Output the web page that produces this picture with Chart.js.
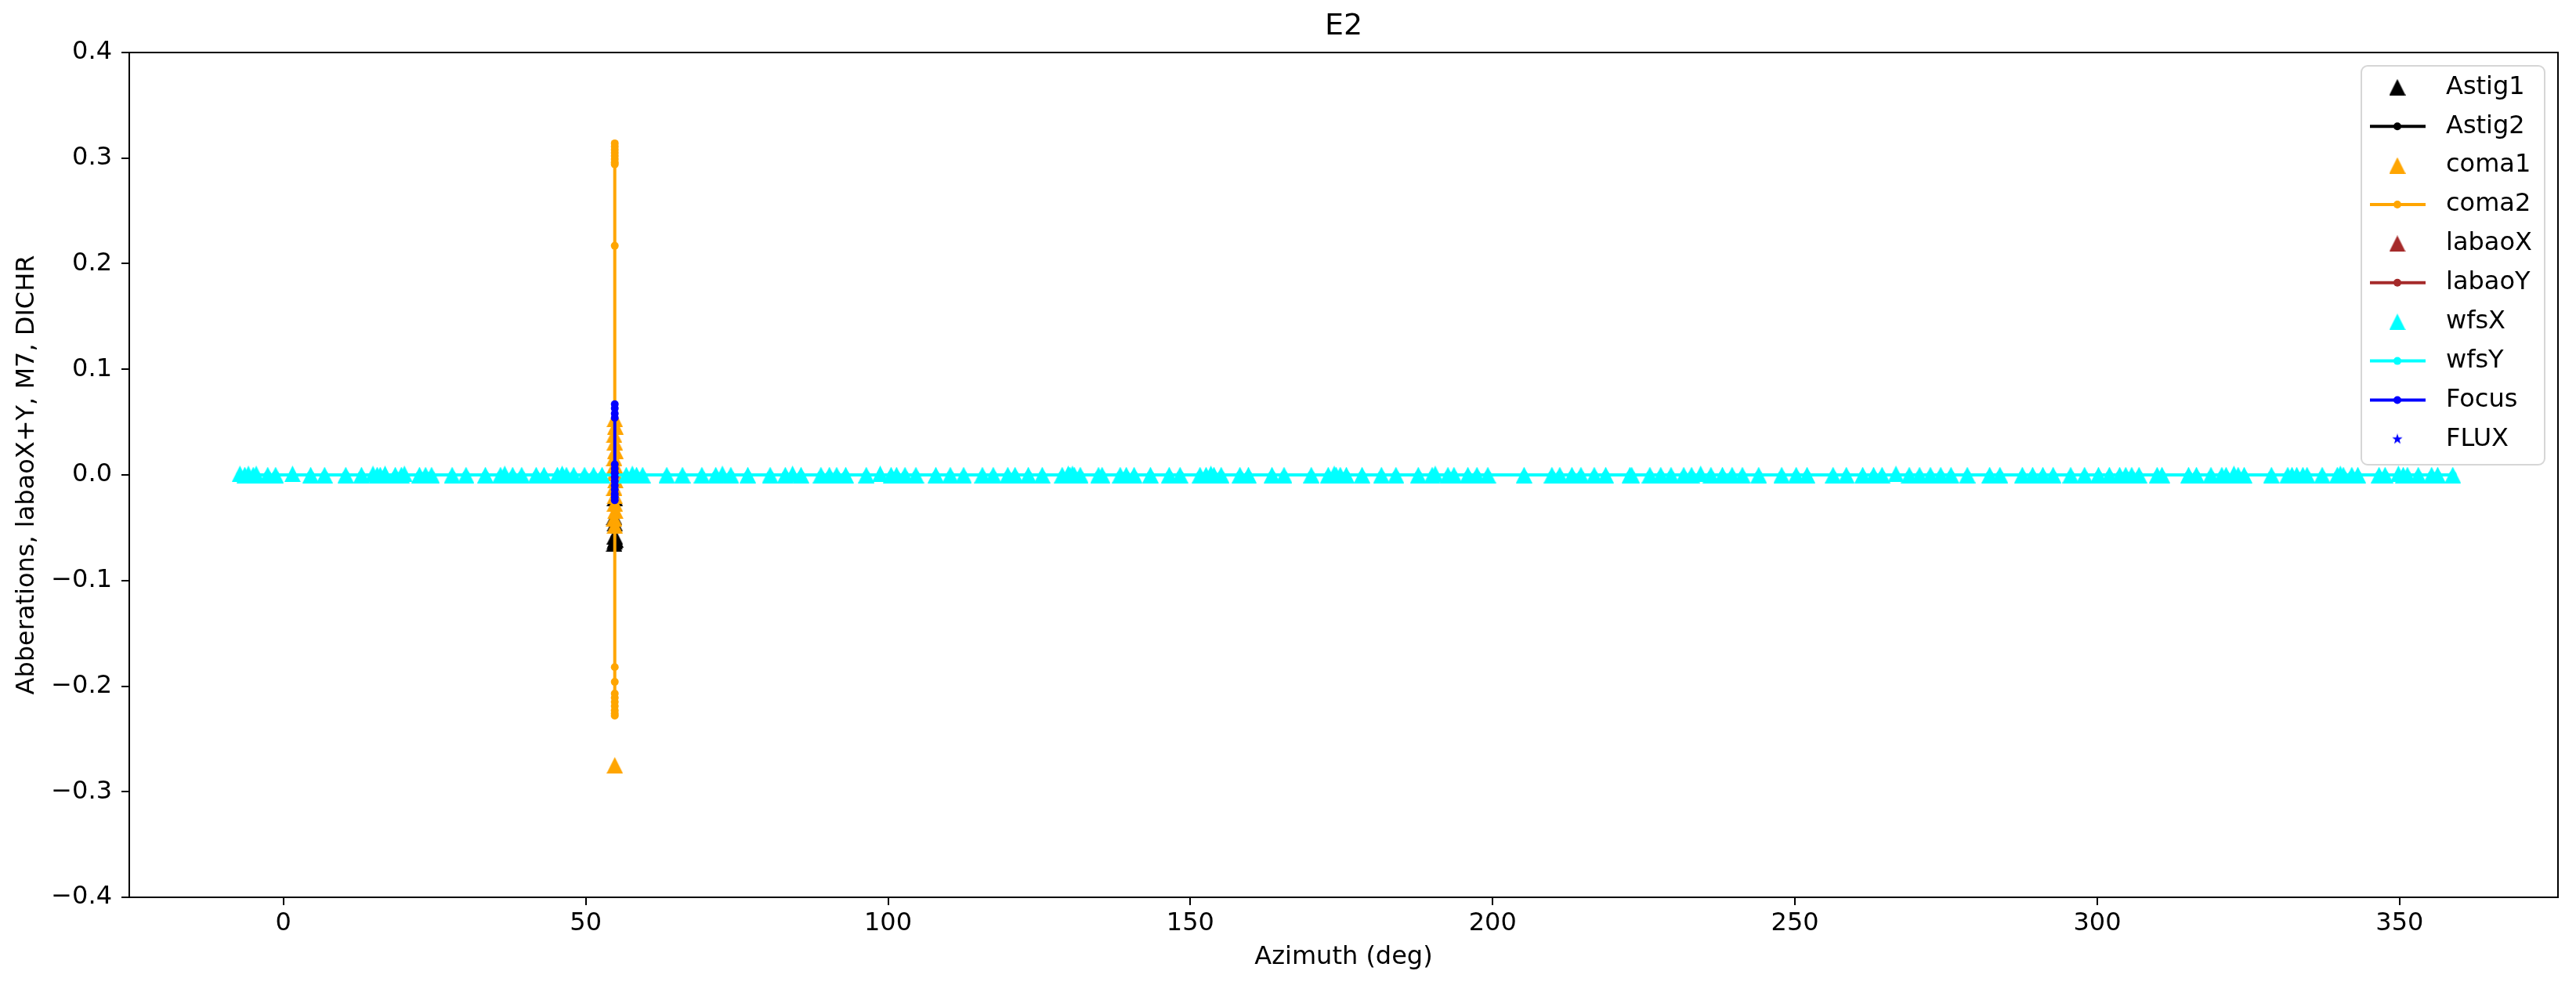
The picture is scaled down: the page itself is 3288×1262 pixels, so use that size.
<!DOCTYPE html>
<html>
<head>
<meta charset="utf-8">
<title>E2</title>
<script src="https://cdn.jsdelivr.net/npm/chart.js@4.4.1/dist/chart.umd.min.js"></script>
<style>
  html, body { margin: 0; padding: 0; background: #fff; }
  #wrap { width: 3288px; height: 1262px; position: relative; }
</style>
</head>
<body>
<div id="wrap"><canvas id="chart"></canvas></div>
<script>
// WFS samples, azimuth in deg
const wfsAz = [
  -7.2, -6.4, -5.8, -5.0, -4.5, -2.6, -1.3, 1.5, 4.5, 6.8,
  10.3, 12.9, 14.8, 15.5, 16.0, 16.8, 18.5, 19.5, 20.0, 22.5,
  23.5, 24.5, 27.9, 30.2, 33.4, 35.9, 36.6, 37.9, 39.4, 41.8,
  43.1, 45.3, 46.1, 46.8, 48.0, 49.8, 51.3, 52.7, 56.7, 57.7,
  58.4, 59.4, 63.4,
  66.0, 69.2, 71.5, 72.6, 74.0, 76.8, 80.5, 83.0, 84.2, 85.6,
  88.9, 90.3, 91.5, 93.0, 96.4, 98.7, 100.5, 101.4, 102.8, 104.6,
  107.9, 110.3, 112.5, 115.6, 117.4, 119.8, 121.0,
  123.2, 125.5, 128.8, 129.8, 130.1, 130.5, 130.8, 131.8, 134.8, 135.4,
  138.4, 139.4, 140.7, 143.4, 146.5, 148.3, 151.6, 152.6, 153.4, 153.9,
  155.1, 158.2, 159.6, 163.5, 165.5, 170.0, 172.8, 173.8, 174.1, 174.8,
  175.8, 178.4, 181.6, 184.0, 187.7, 190.0, 190.5, 192.6, 193.6, 195.9,
  197.4, 199.2, 205.2, 209.8, 211.1, 213.1, 214.6, 216.8, 218.7, 222.7,
  223.0,
  226.0, 227.8, 229.5, 231.6, 232.9, 234.4, 236.1, 238.0, 239.6, 241.3,
  244.0, 247.8, 250.2, 252.0, 256.3, 258.5, 261.2, 263.0, 264.4, 266.7,
  268.9, 270.6, 272.4, 274.1, 275.8, 278.5, 282.2, 283.9, 287.6, 289.3,
  291.0, 292.7, 295.6, 297.9, 300.2, 302.0,
  303.7, 304.7, 305.7, 306.9, 309.9, 310.7, 315.1, 316.4, 318.8, 320.6,
  321.3, 322.6, 323.3, 324.3, 328.8, 331.5, 332.2, 333.0, 334.0, 334.7,
  337.2, 339.7, 340.2, 340.7, 342.1, 343.1, 346.6, 347.6, 349.8, 350.6,
  351.3, 353.1, 355.3, 356.3, 358.8
];
const wfsX = [
  0.001, 0.0, 0.001, 0.0, 0.001, 0.0, 0.0, 0.001, 0.0, 0.0,
  0.0, 0.0, 0.001, 0.0, 0.0, 0.001, 0.0, 0.0, 0.001, 0.0,
  0.0, 0.0, 0.0, 0.0, 0.0, 0.0, 0.001, 0.0, 0.0, 0.0,
  0.0, 0.0, 0.001, 0.0, 0.0, 0.0, 0.0, 0.0, 0.0, 0.001,
  0.0, 0.0, 0.0,
  0.0, 0.0, 0.0, 0.001, 0.0, 0.0, 0.0, 0.0, 0.001, 0.0,
  0.0, 0.0, 0.0, 0.0, 0.0, 0.001, 0.0, 0.0, 0.0, 0.0,
  0.0, 0.0, 0.0, 0.0, 0.0, 0.0, 0.0,
  0.0, 0.0, 0.0, 0.001, 0.0, 0.001, 0.0, 0.0, 0.0, 0.0,
  0.0, 0.0, 0.0, 0.0, 0.0, 0.0, 0.0, 0.0, 0.001, 0.0,
  0.0, 0.0, 0.0, 0.0, 0.0, 0.0, 0.0, 0.001, 0.0, 0.0,
  0.0, 0.0, 0.0, 0.0, 0.0, 0.0, 0.001, 0.0, 0.0, 0.0,
  0.0, 0.0, 0.0, 0.0, 0.0, 0.0, 0.0, 0.0, 0.0, 0.0,
  0.0,
  0.0, 0.0, 0.0, 0.0, 0.0, 0.001, 0.0, 0.0, 0.0, 0.0,
  0.0, 0.0, 0.0, 0.0, 0.0, 0.0, 0.0, 0.0, 0.0, 0.001,
  0.0, 0.0, 0.0, 0.0, 0.0, 0.0, 0.0, 0.0, 0.0, 0.0,
  0.0, 0.0, 0.0, 0.0, 0.0, 0.0,
  0.0, 0.0, 0.0, 0.0, 0.0, 0.0, 0.0, 0.0, 0.0, 0.0,
  0.0, 0.001, 0.0, 0.0, 0.0, 0.0, 0.0, 0.0, 0.0, 0.0,
  0.0, 0.0, 0.001, 0.0, 0.0, 0.0, 0.0, 0.0, 0.001, 0.0,
  0.0, 0.0, 0.0, 0.0, 0.0
];
const wfsY = [
  0.0, 0.0, 0.0, 0.0, 0.0, 0.0, 0.0, 0.0, 0.0, 0.0,
  0.0, 0.0, 0.0, 0.0, 0.0, 0.0, 0.0, 0.0, 0.0, 0.0,
  0.0, 0.0, 0.0, 0.0, 0.0, 0.0, 0.0, 0.0, 0.0, 0.0,
  0.0, 0.0, 0.0, 0.0, 0.0, 0.0, 0.0, 0.0, 0.0, 0.0,
  0.0, 0.0, 0.0,
  0.0, 0.0, 0.0, 0.0, 0.0, 0.0, 0.0, 0.0, 0.0, 0.0,
  0.0, 0.0, 0.0, 0.0, 0.0, 0.0, 0.0, 0.0, 0.0, 0.0,
  0.0, 0.0, 0.0, 0.0, 0.0, 0.0, 0.0,
  0.0, 0.0, 0.0, 0.0, 0.0, 0.0, 0.0, 0.0, 0.0, 0.0,
  0.0, 0.0, 0.0, 0.0, 0.0, 0.0, 0.0, 0.0, 0.0, 0.0,
  0.0, 0.0, 0.0, 0.0, 0.0, 0.0, 0.0, 0.0, 0.0, 0.0,
  0.0, 0.0, 0.0, 0.0, 0.0, 0.0, 0.0, 0.0, 0.0, 0.0,
  0.0, 0.0, 0.0, 0.0, 0.0, 0.0, 0.0, 0.0, 0.0, 0.0,
  0.0,
  0.0, 0.0, 0.0, 0.0, 0.0, 0.0, 0.0, 0.0, 0.0, 0.0,
  0.0, 0.0, 0.0, 0.0, 0.0, 0.0, 0.0, 0.0, 0.0, 0.0,
  0.0, 0.0, 0.0, 0.0, 0.0, 0.0, 0.0, 0.0, 0.0, 0.0,
  0.0, 0.0, 0.0, 0.0, 0.0, 0.0,
  0.0, 0.0, 0.0, 0.0, 0.0, 0.0, 0.0, 0.0, 0.0, 0.0,
  0.0, 0.0, 0.0, 0.0, 0.0, 0.0, 0.0, 0.0, 0.0, 0.0,
  0.0, 0.0, 0.0, 0.0, 0.0, 0.0, 0.0, 0.0, 0.0, 0.0,
  0.0, 0.0, 0.0, 0.0, 0.0
];

// the rest was all taken with the dome parked near az 55
const astig1Az = [54.8, 54.7, 54.8, 54.8, 54.9, 54.8, 54.7];
const astig1 = [-0.022, -0.04, -0.046, -0.058, -0.061, -0.063, -0.065];
const astig2Az = [54.8, 54.8, 54.7, 54.8, 54.9, 54.8];
const astig2 = [-0.064, -0.062, -0.06, -0.045, -0.03, -0.02];
const coma1Az = [54.8, 54.9, 54.7, 54.8, 54.9, 54.7, 54.8, 54.8, 54.9, 54.7, 54.8, 54.8, 54.9, 54.7, 54.8, 54.8];
const coma1 = [0.053, 0.046, 0.038, 0.031, 0.023, 0.016, 0.009, 0.002, -0.005, -0.012, -0.02, -0.027, -0.034, -0.041, -0.048, -0.275];
const coma2Az = [54.8, 54.8, 54.8, 54.8, 54.8, 54.8, 54.8, 54.8, 54.8, 54.8, 54.8, 54.8, 54.8, 54.8, 54.8, 54.8, 54.8, 54.8, 54.8, 54.8, 54.8, 54.8, 54.8, 54.8];
const coma2 = [0.314, 0.311, 0.308, 0.305, 0.302, 0.299, 0.296, 0.294, 0.217, 0.04, 0.02, 0.0, -0.02, -0.04, -0.182, -0.196, -0.207, -0.211, -0.215, -0.219, -0.223, -0.226, -0.228, -0.05];
const labaoXAz = [];
const labaoX = [];
const labaoYAz = [];
const labaoY = [];
const focusAz = [54.8, 54.8, 54.8, 54.8, 54.8, 54.8, 54.8, 54.8, 54.8, 54.8, 54.8, 54.8, 54.8, 54.8];
const focus = [0.067, 0.063, 0.058, 0.054, 0.01, 0.006, 0.002, -0.002, -0.006, -0.01, -0.014, -0.018, -0.021, -0.024];
const fluxAz = [54.8];
const flux = [0.0];

const xTicks = [0, 50, 100, 150, 200, 250, 300, 350];
const yTicks = [-0.4, -0.3, -0.2, -0.1, 0.0, 0.1, 0.2, 0.3, 0.4];
const xRange = [-25.5, 376.2];
const yRange = [-0.4, 0.4];

const FONT = '"DejaVu Sans", "Liberation Sans", sans-serif';

// matplotlib-like marker glyphs
function markerCanvas(kind, color, size) {
    const c = document.createElement('canvas');
    c.width = size;
    c.height = size;
    const g = c.getContext('2d');
    const h = size / 2;
    g.fillStyle = color;
    g.beginPath();
    if (kind === 'tri') {
        g.moveTo(h, 0);
        g.lineTo(size, size);
        g.lineTo(0, size);
    } else if (kind === 'star') {
        for (let k = 0; k < 10; k++) {
            const r = k % 2 ? h * 0.4 : h;
            const a = -Math.PI / 2 + k * Math.PI / 5;
            g.lineTo(h + r * Math.cos(a), h + r * Math.sin(a));
        }
    } else {
        g.arc(h, h, h, 0, Math.PI * 2);
    }
    g.closePath();
    g.fill();
    return c;
}

const series = [
    { label: 'Astig1', xs: astig1Az, ys: astig1, color: '#000000', marker: 'tri', line: false },
    { label: 'Astig2', xs: astig2Az, ys: astig2, color: '#000000', marker: 'dot', line: true },
    { label: 'coma1', xs: coma1Az, ys: coma1, color: '#ffa500', marker: 'tri', line: false },
    { label: 'coma2', xs: coma2Az, ys: coma2, color: '#ffa500', marker: 'dot', line: true },
    { label: 'labaoX', xs: labaoXAz, ys: labaoX, color: '#a52a2a', marker: 'tri', line: false },
    { label: 'labaoY', xs: labaoYAz, ys: labaoY, color: '#a52a2a', marker: 'dot', line: true },
    { label: 'wfsX', xs: wfsAz, ys: wfsX, color: '#00ffff', marker: 'tri', line: false },
    { label: 'wfsY', xs: wfsAz, ys: wfsY, color: '#00ffff', marker: 'dot', line: true },
    { label: 'Focus', xs: focusAz, ys: focus, color: '#0000ff', marker: 'dot', line: true },
    { label: 'FLUX', xs: fluxAz, ys: flux, color: '#0000ff', marker: 'star', line: false }
];

function toPoints(xs, ys) {
    return xs.map((x, i) => ({ x: x, y: ys[i] }));
}

const datasets = series.map((s, i) => {
    let style = 'circle';
    let radius = 5;
    if (s.marker === 'tri') { style = markerCanvas('tri', s.color, 21); radius = 10; }
    if (s.marker === 'star') { style = markerCanvas('star', s.color, 12); radius = 6; }
    return {
        label: s.label,
        data: toPoints(s.xs, s.ys),
        showLine: s.line,
        borderColor: s.color,
        backgroundColor: s.color,
        borderWidth: 4,
        tension: 0,
        pointStyle: style,
        pointRadius: radius,
        pointBorderWidth: 0,
        pointBackgroundColor: s.color,
        order: series.length - i // later series on top, like matplotlib
    };
});

function fmtY(v) {
    if (Math.abs(v) < 1e-9) return '0.0';
    return (v < 0 ? '\u2212' : '') + Math.abs(v).toFixed(1);
}

const axesFrame = {
    id: 'axesFrame',
    afterDatasetsDraw(chart) {
        const { ctx, chartArea: a } = chart;
        ctx.save();
        ctx.strokeStyle = '#000';
        ctx.lineWidth = 2;
        ctx.strokeRect(a.left, a.top, a.right - a.left, a.bottom - a.top);
        ctx.restore();
    }
};

const plotTitle = {
    id: 'plotTitle',
    afterDraw(chart) {
        const { ctx, chartArea: a } = chart;
        ctx.save();
        ctx.font = '38px ' + FONT;
        ctx.fillStyle = '#000';
        ctx.textAlign = 'center';
        ctx.textBaseline = 'middle';
        ctx.fillText('E2', (a.left + a.right) / 2, 34);
        ctx.restore();
    }
};

// legend drawn by hand so line entries get line + dot like matplotlib
const mplLegend = {
    id: 'mplLegend',
    afterDraw(chart) {
        const { ctx, chartArea: a } = chart;
        const right = a.right - 17;
        const left = right - 234;
        const top = a.top + 17;
        const bottom = top + 509;
        ctx.save();
        ctx.beginPath();
        ctx.roundRect(left, top, right - left, bottom - top, 8);
        ctx.fillStyle = 'rgba(255,255,255,0.8)';
        ctx.fill();
        ctx.lineWidth = 2;
        ctx.strokeStyle = '#d6d6d6';
        ctx.stroke();

        ctx.font = '32px ' + FONT;
        ctx.textBaseline = 'middle';
        series.forEach((s, i) => {
            const y = top + 27.3 + i * 49.9;
            const mx = left + 46;
            if (s.line) {
                ctx.beginPath();
                ctx.moveTo(left + 11, y);
                ctx.lineTo(left + 82, y);
                ctx.strokeStyle = s.color;
                ctx.lineWidth = 4;
                ctx.stroke();
            }
            if (s.marker === 'dot') {
                ctx.beginPath();
                ctx.arc(mx, y, 5, 0, Math.PI * 2);
                ctx.fillStyle = s.color;
                ctx.fill();
            } else {
                const img = markerCanvas(s.marker, s.color, s.marker === 'tri' ? 21 : 14);
                ctx.drawImage(img, mx - img.width / 2, y - img.height / 2);
            }
            ctx.fillStyle = '#000';
            ctx.fillText(s.label, left + 108, y);
        });
        ctx.restore();
    }
};

new Chart(document.getElementById('chart'), {
    type: 'scatter',
    data: { datasets: datasets },
    plugins: [axesFrame, plotTitle, mplLegend],
    options: {
        responsive: true,
        maintainAspectRatio: false,
        animation: false,
        events: [],
        layout: { padding: { left: 0, right: 23, top: 67, bottom: 0 } },
        plugins: {
            legend: { display: false },
            tooltip: { enabled: false },
            title: { display: false }
        },
        scales: {
            x: {
                type: 'linear',
                min: xRange[0],
                max: xRange[1],
                afterBuildTicks: scale => { scale.ticks = xTicks.map(v => ({ value: v })); },
                afterFit: scale => { scale.height = 117; },
                border: { display: false },
                grid: { drawOnChartArea: false, drawTicks: true, tickLength: 10, color: '#000', lineWidth: 2 },
                ticks: {
                    color: '#000',
                    padding: 4,
                    maxRotation: 0,
                    autoSkip: false,
                    font: { family: FONT, size: 32 },
                    callback: v => String(v)
                },
                title: {
                    display: true,
                    text: 'Azimuth (deg)',
                    color: '#000',
                    font: { family: FONT, size: 32 },
                    padding: { top: 0, bottom: 21 }
                }
            },
            y: {
                type: 'linear',
                min: yRange[0],
                max: yRange[1],
                afterBuildTicks: scale => { scale.ticks = yTicks.map(v => ({ value: v })); },
                afterFit: scale => { scale.width = 165; },
                border: { display: false },
                grid: { drawOnChartArea: false, drawTicks: true, tickLength: 10, color: '#000', lineWidth: 2 },
                ticks: {
                    color: '#000',
                    padding: 12,
                    autoSkip: false,
                    font: { family: FONT, size: 32 },
                    callback: v => fmtY(v)
                },
                title: {
                    display: true,
                    text: 'Abberations, labaoX+Y, M7, DICHR',
                    color: '#000',
                    font: { family: FONT, size: 32 },
                    padding: { top: 15, bottom: 0 }
                }
            }
        }
    }
});
</script>
</body>
</html>
